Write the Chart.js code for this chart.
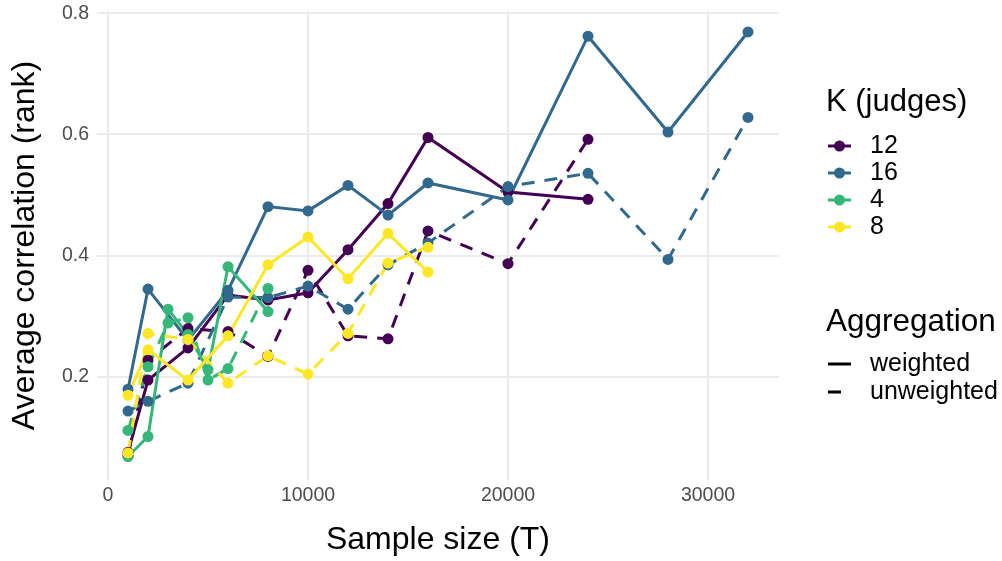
<!DOCTYPE html>
<html>
<head>
<meta charset="utf-8">
<title>Average correlation by sample size</title>
<script src="https://cdn.jsdelivr.net/npm/chart.js@4.4.0/dist/chart.umd.min.js"></script>
<style>
  body { margin: 0; background: #ffffff; }
  #wrap { width: 1002px; height: 561px; }
</style>
</head>
<body>
<div id="wrap"><canvas id="corrChart" width="1002" height="561"></canvas></div>
<script>
// K (number of judges) levels, in legend order
const kLevels = ['12', '16', '4', '8'];
const kColors = ['#440154', '#31688E', '#35B779', '#FDE725'];

// K = 12
const sizesK12 = [1000, 2000, 4000, 6000, 8000, 10000, 12000, 14000, 16000, 20000, 24000];
const weightedK12 = [0.076, 0.195, 0.248, 0.335, 0.327, 0.339, 0.41, 0.486, 0.595, 0.505, 0.493];
const unweightedK12 = [0.07, 0.228, 0.28, 0.275, 0.234, 0.376, 0.268, 0.263, 0.441, 0.387, 0.592];

// K = 16
const sizesK16 = [1000, 2000, 4000, 6000, 8000, 10000, 12000, 14000, 16000, 20000, 24000, 28000, 32000];
const weightedK16 = [0.18, 0.345, 0.261, 0.343, 0.481, 0.474, 0.516, 0.467, 0.52, 0.492, 0.762, 0.604, 0.769];
const unweightedK16 = [0.144, 0.16, 0.19, 0.332, 0.331, 0.35, 0.312, 0.385, 0.421, 0.514, 0.536, 0.394, 0.628];

// K = 4
const sizesK4 = [1000, 2000, 3000, 4000, 5000, 6000, 8000];
const weightedK4 = [0.069, 0.102, 0.312, 0.27, 0.212, 0.382, 0.308];
const unweightedK4 = [0.112, 0.217, 0.289, 0.298, 0.195, 0.214, 0.346];

// K = 8
const sizesK8 = [1000, 2000, 4000, 6000, 8000, 10000, 12000, 14000, 16000];
const weightedK8 = [0.17, 0.245, 0.195, 0.268, 0.385, 0.431, 0.362, 0.437, 0.373];
const unweightedK8 = [0.075, 0.272, 0.262, 0.19, 0.235, 0.205, 0.272, 0.388, 0.414];

const xTicks = [0, 10000, 20000, 30000];
const yTicks = [0.2, 0.4, 0.6, 0.8];

const FONT = "'Liberation Sans', Arial, sans-serif";
const DASH = [13, 10];

function toPoints(xs, ys) {
  return xs.map((x, i) => ({ x: x, y: ys[i] }));
}

const groups = [
  { k: 0, dashed: false, data: toPoints(sizesK12, weightedK12) },
  { k: 0, dashed: true,  data: toPoints(sizesK12, unweightedK12) },
  { k: 1, dashed: false, data: toPoints(sizesK16, weightedK16) },
  { k: 1, dashed: true,  data: toPoints(sizesK16, unweightedK16) },
  { k: 2, dashed: false, data: toPoints(sizesK4, weightedK4) },
  { k: 2, dashed: true,  data: toPoints(sizesK4, unweightedK4) },
  { k: 3, dashed: false, data: toPoints(sizesK8, weightedK8) },
  { k: 3, dashed: true,  data: toPoints(sizesK8, unweightedK8) }
];

// lines first (underneath), then points; later groups sit on top
const datasets = [];
groups.forEach((g, i) => {
  datasets.push({
    label: kLevels[g.k] + (g.dashed ? ' unweighted' : ' weighted'),
    data: g.data,
    borderColor: kColors[g.k],
    borderWidth: 3,
    borderDash: g.dashed ? DASH : [],
    pointRadius: 0,
    fill: false,
    tension: 0,
    order: 100 - i
  });
  datasets.push({
    label: kLevels[g.k] + ' points',
    data: g.data,
    showLine: false,
    pointRadius: 5.5,
    pointBorderWidth: 0,
    pointBackgroundColor: kColors[g.k],
    pointBorderColor: kColors[g.k],
    order: 50 - i
  });
});

// legend on the right side, drawn straight onto the canvas
const sideLegend = {
  id: 'sideLegend',
  afterDraw(chart) {
    const ctx = chart.ctx;
    ctx.save();
    ctx.textAlign = 'left';
    ctx.textBaseline = 'middle';
    ctx.fillStyle = '#000000';
    ctx.font = '31px ' + FONT;
    ctx.fillText('K (judges)', 826, 102);

    ctx.font = '25px ' + FONT;
    kLevels.forEach((k, i) => {
      const y = 146 + i * 27;
      ctx.strokeStyle = kColors[i];
      ctx.lineWidth = 3;
      ctx.setLineDash([]);
      ctx.beginPath();
      ctx.moveTo(828, y);
      ctx.lineTo(851, y);
      ctx.stroke();
      ctx.fillStyle = kColors[i];
      ctx.beginPath();
      ctx.arc(839.5, y, 5.5, 0, Math.PI * 2);
      ctx.fill();
      ctx.fillStyle = '#000000';
      ctx.fillText(k, 870, y);
    });

    ctx.font = '31.5px ' + FONT;
    ctx.fillText('Aggregation', 826, 322);

    ctx.font = '25px ' + FONT;
    ctx.strokeStyle = '#000000';
    ctx.lineWidth = 3;
    ctx.beginPath();
    ctx.moveTo(828, 364);
    ctx.lineTo(851, 364);
    ctx.stroke();
    ctx.fillText('weighted', 870, 364);

    ctx.beginPath();
    ctx.moveTo(828, 392);
    ctx.lineTo(841, 392);
    ctx.stroke();
    ctx.fillText('unweighted', 870, 392);
    ctx.restore();
  }
};

new Chart(document.getElementById('corrChart'), {
  type: 'line',
  data: { datasets: datasets },
  plugins: [sideLegend],
  options: {
    responsive: false,
    animation: false,
    events: [],
    layout: { padding: { top: 10.6, right: 223, bottom: 0, left: 0 } },
    plugins: {
      legend: { display: false },
      tooltip: { enabled: false }
    },
    scales: {
      x: {
        type: 'linear',
        min: -550,
        max: 33550,
        afterBuildTicks: (scale) => { scale.ticks = xTicks.map(v => ({ value: v })); },
        afterFit: (scale) => {
          scale.height = 80.7;
          scale.paddingLeft = 0;
          scale.paddingRight = 0;
        },
        ticks: {
          color: '#4d4d4d',
          font: { family: FONT, size: 19.5 },
          padding: 4,
          maxRotation: 0,
          callback: (v) => String(v)
        },
        grid: { color: '#ebebeb', lineWidth: 2, drawTicks: false },
        border: { display: false },
        title: {
          display: true,
          text: 'Sample size (T)',
          color: '#000000',
          font: { family: FONT, size: 32, lineHeight: 1 },
          padding: { top: 0, bottom: 5 }
        }
      },
      y: {
        type: 'linear',
        min: 0.0298,
        max: 0.8042,
        afterBuildTicks: (scale) => { scale.ticks = yTicks.map(v => ({ value: v })); },
        afterFit: (scale) => {
          scale.width = 97;
          scale.paddingTop = 0;
          scale.paddingBottom = 0;
        },
        ticks: {
          color: '#4d4d4d',
          font: { family: FONT, size: 19.5 },
          padding: 8,
          callback: (v) => v.toFixed(1)
        },
        grid: { color: '#ebebeb', lineWidth: 2, drawTicks: false },
        border: { display: false },
        title: {
          display: true,
          text: 'Average correlation (rank)',
          color: '#000000',
          font: { family: FONT, size: 32, lineHeight: 1 },
          padding: { top: 9, bottom: 0 }
        }
      }
    }
  }
});
</script>
</body>
</html>
